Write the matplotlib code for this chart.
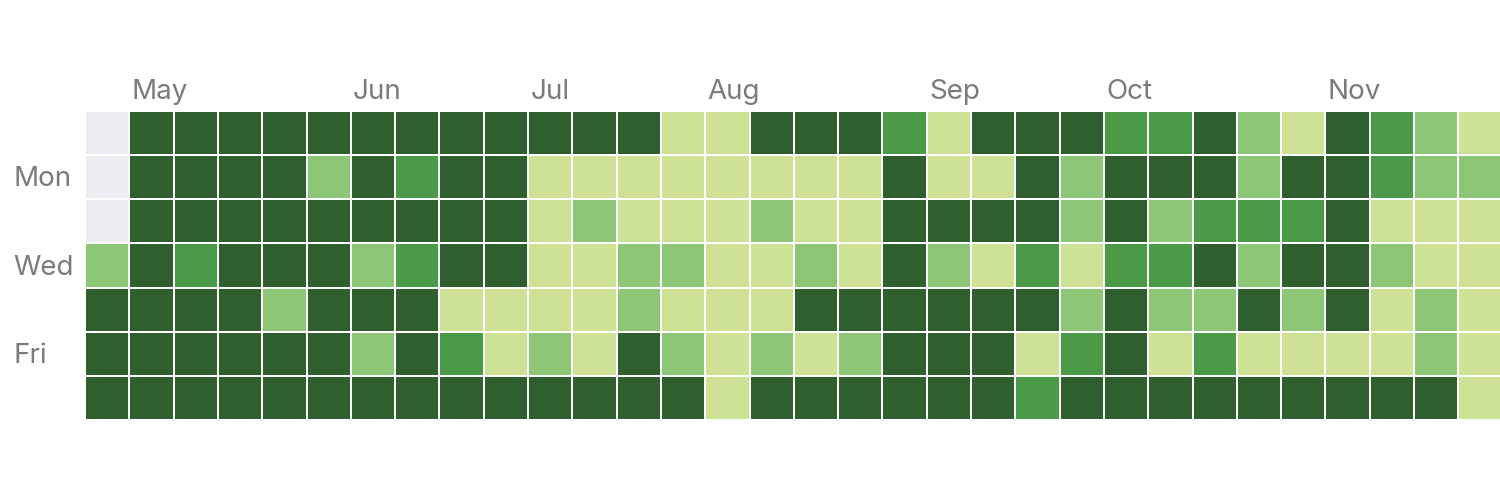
import numpy as np
import matplotlib.pyplot as plt
from matplotlib.colors import ListedColormap

plt.rcParams['font.family'] = ['Inter', 'DejaVu Sans']

# activity level per week column (0 = no data, 1..4 = light..dark)
sun = [0, 4, 4, 4, 4, 4, 4, 4, 4, 4, 4, 4, 4, 1, 1, 4, 4, 4, 3, 1, 4, 4, 4, 3, 3, 4, 2, 1, 4, 3, 2, 1]
mon = [0, 4, 4, 4, 4, 2, 4, 3, 4, 4, 1, 1, 1, 1, 1, 1, 1, 1, 4, 1, 1, 4, 2, 4, 4, 4, 2, 4, 4, 3, 2, 2]
tue = [0, 4, 4, 4, 4, 4, 4, 4, 4, 4, 1, 2, 1, 1, 1, 2, 1, 1, 4, 4, 4, 4, 2, 4, 2, 3, 3, 3, 4, 1, 1, 1]
wed = [2, 4, 3, 4, 4, 4, 2, 3, 4, 4, 1, 1, 2, 2, 1, 1, 2, 1, 4, 2, 1, 3, 1, 3, 3, 4, 2, 4, 4, 2, 1, 1]
thu = [4, 4, 4, 4, 2, 4, 4, 4, 1, 1, 1, 1, 2, 1, 1, 1, 4, 4, 4, 4, 4, 4, 2, 4, 2, 2, 4, 2, 4, 1, 2, 1]
fri = [4, 4, 4, 4, 4, 4, 2, 4, 3, 1, 2, 1, 4, 2, 1, 2, 1, 2, 4, 4, 4, 1, 3, 4, 1, 3, 1, 1, 1, 1, 2, 1]
sat = [4, 4, 4, 4, 4, 4, 4, 4, 4, 4, 4, 4, 4, 4, 1, 4, 4, 4, 4, 4, 4, 3, 4, 4, 4, 4, 4, 4, 4, 4, 4, 1]

months = ['May', 'Jun', 'Jul', 'Aug', 'Sep', 'Oct', 'Nov']
month_start_week = [1, 6, 10, 14, 19, 23, 28]

day_labels = ['Mon', 'Wed', 'Fri']
day_rows = [1, 3, 5]

colors = ['#ebebf0', '#cee295', '#8dc676', '#4b9a47', '#2f5f2e']
text_color = '#7b7b7b'

grid = np.array([sun, mon, tue, wed, thu, fri, sat])
n_rows, n_cols = grid.shape

fig = plt.figure(figsize=(15, 5), dpi=100)
# grid spans x 85..~1500 px, y 111..420 px
ax = fig.add_axes([85 / 1500, 80 / 500, 1415 / 1500, 309 / 500])

ax.pcolormesh(np.arange(n_cols + 1), np.arange(n_rows + 1), grid,
              cmap=ListedColormap(colors), vmin=-0.5, vmax=4.5,
              edgecolors='white', linewidth=1.2)

col_px = 44.3
ax.set_xlim(0, 1415 / col_px)
ax.set_ylim(n_rows, 0)
ax.axis('off')

for name, wk in zip(months, month_start_week):
    ax.text(wk + 0.05, -0.28, name, ha='left', va='baseline',
            fontsize=20, color=text_color)

for name, row in zip(day_labels, day_rows):
    ax.text(-1.61, row + 0.55, name, ha='left', va='center',
            fontsize=20, color=text_color)

fig.savefig('out.png', dpi=100)
